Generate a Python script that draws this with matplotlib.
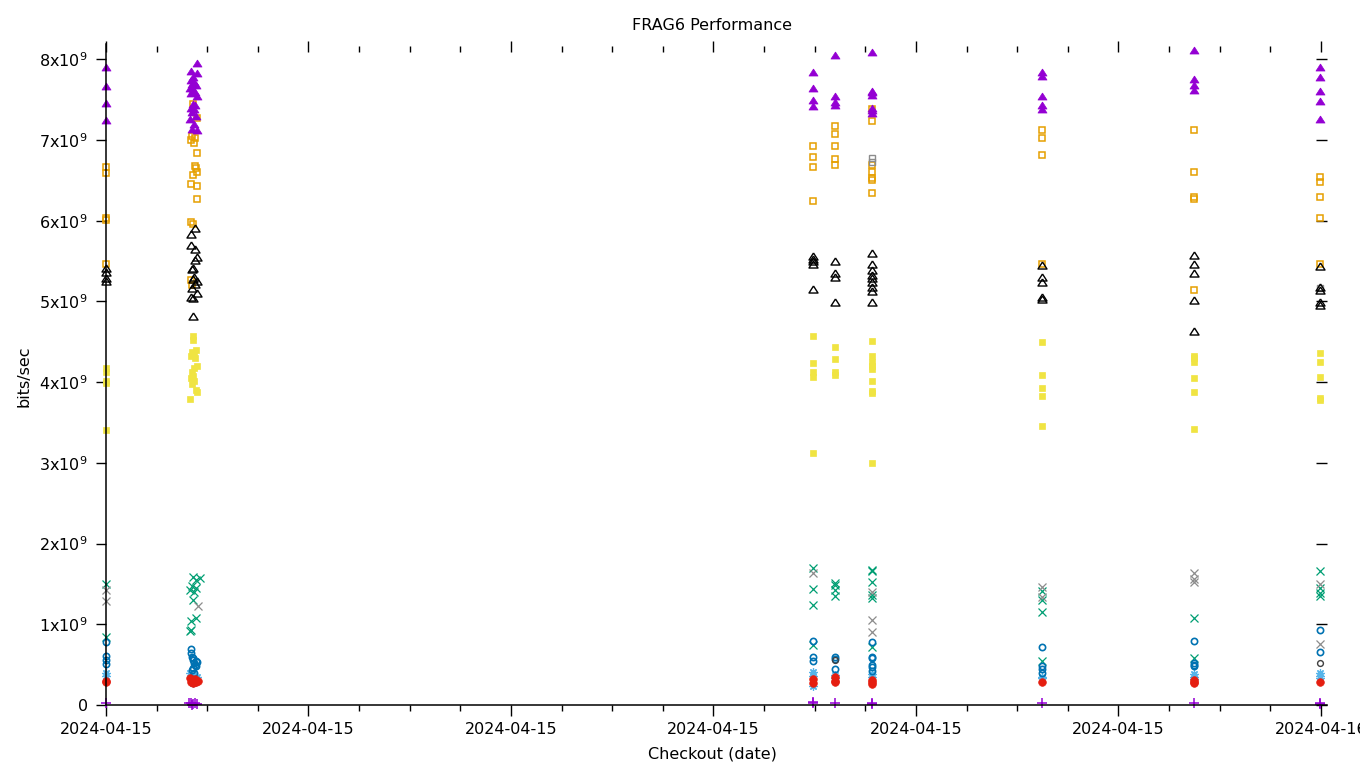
import matplotlib
matplotlib.use('Agg')
import matplotlib.pyplot as plt
import matplotlib.dates as mdates
from datetime import datetime, timedelta

# ---------------- data (hours after 2024-04-15 00:00, values in Gbit/s) ----------------
base_day = datetime(2024, 4, 15)

plus_h = [0.0, 1.64, 1.68, 1.72, 1.76, 1.80, 1.70, 13.97, 13.97, 14.40, 15.13, 15.13, 18.49, 21.49, 23.98, 23.98]
plus_v = [0.025, 0.02, 0.03, 0.01, 0.02, 0.01, 0.00, 0.04, 0.02, 0.03, 0.03, 0.01, 0.02, 0.02, 0.03, 0.01]

xgreen_h = [0.0, 0.0,
            1.72, 1.86, 1.78, 1.70, 1.78, 1.66, 1.74, 1.72, 1.78, 1.68, 1.68, 1.66,
            13.97, 13.97, 13.97, 13.97,
            14.40, 14.40, 14.40, 14.40,
            15.13, 15.13, 15.13, 15.13, 15.13, 15.13,
            18.49, 18.49, 18.49, 18.49,
            21.49, 21.49,
            23.98, 23.98, 23.98, 23.98]
xgreen_v = [1.50, 0.84,
            1.59, 1.57, 1.55, 1.47, 1.45, 1.43, 1.40, 1.30, 1.08, 1.04, 0.93, 0.92,
            1.70, 1.44, 1.24, 0.74,
            1.51, 1.49, 1.42, 1.35,
            1.67, 1.66, 1.52, 1.36, 1.33, 0.72,
            1.41, 1.30, 1.15, 0.54,
            1.08, 0.58,
            1.66, 1.45, 1.39, 1.35]

xgray_h = [0.0, 0.0, 1.82, 13.97, 15.13, 15.13, 15.13, 18.49, 18.49, 21.49, 21.49, 21.49, 23.98, 23.98]
xgray_v = [1.42, 1.29, 1.23, 1.63, 1.40, 1.05, 0.90, 1.46, 1.34, 1.64, 1.56, 1.52, 1.50, 0.76]

star_h = [0.0, 0.0, 1.66, 1.74, 1.80, 1.70, 1.76, 1.72, 13.97, 13.97, 13.97, 14.40, 14.40,
          15.13, 15.13, 18.49, 18.49, 21.49, 21.49, 21.49, 23.98, 23.98, 23.98]
star_v = [0.40, 0.36, 0.40, 0.37, 0.35, 0.33, 0.30, 0.27, 0.41, 0.36, 0.24, 0.37, 0.33,
          0.38, 0.35, 0.35, 0.33, 0.38, 0.35, 0.32, 0.40, 0.36, 0.33]

osq_h = [0.0, 0.0, 0.0, 0.0, 0.0,
         1.72, 1.80, 1.70, 1.76, 1.68, 1.74, 1.80, 1.76, 1.78, 1.80, 1.72, 1.68, 1.80, 1.80, 1.68, 1.72, 1.68, 1.70,
         13.97, 13.97, 13.97, 13.97,
         14.40, 14.40, 14.40, 14.40, 14.40,
         15.13, 15.13, 15.13, 15.13, 15.13, 15.13, 15.13,
         18.49, 18.49, 18.49, 18.49,
         21.49, 21.49, 21.49, 21.49, 21.49,
         23.98, 23.98, 23.98, 23.98, 23.98]
osq_v = [6.66, 6.59, 6.03, 6.01, 5.47,
         7.45, 7.27, 7.05, 7.03, 7.00, 6.96, 6.84, 6.68, 6.65, 6.60, 6.57, 6.45, 6.43, 6.27, 5.98, 5.96, 5.26, 5.20,
         6.92, 6.79, 6.67, 6.24,
         7.17, 7.08, 6.93, 6.76, 6.69,
         7.39, 7.23, 6.69, 6.61, 6.53, 6.50, 6.34,
         7.13, 7.03, 6.81, 5.47,
         7.13, 6.61, 6.30, 6.27, 5.14,
         6.54, 6.48, 6.30, 6.04, 5.46]

gsq_h = [15.13, 15.13, 23.98]
gsq_v = [6.78, 6.73, 5.17]

fsq_h = [0.0, 0.0, 0.0, 0.0, 0.0,
         1.72, 1.72, 1.78, 1.70, 1.74, 1.68, 1.76, 1.80, 1.74, 1.70, 1.72, 1.68, 1.74, 1.70, 1.78, 1.80, 1.66,
         13.97, 13.97, 13.97, 13.97, 13.97,
         14.40, 14.40, 14.40, 14.40,
         15.13, 15.13, 15.13, 15.13, 15.13, 15.13, 15.13, 15.13, 15.13,
         18.49, 18.49, 18.49, 18.49, 18.49,
         21.49, 21.49, 21.49, 21.49, 21.49, 21.49,
         23.98, 23.98, 23.98, 23.98, 23.98]
fsq_v = [4.17, 4.12, 4.02, 3.99, 3.41,
         4.57, 4.52, 4.40, 4.37, 4.35, 4.33, 4.30, 4.20, 4.18, 4.12, 4.08, 4.05, 4.02, 3.98, 3.90, 3.88, 3.79,
         4.57, 4.24, 4.12, 4.06, 3.12,
         4.44, 4.29, 4.12, 4.09,
         4.51, 4.33, 4.25, 4.20, 4.16, 4.01, 3.89, 3.86, 3.00,
         4.50, 4.09, 3.93, 3.83, 3.46,
         4.33, 4.30, 4.25, 4.05, 3.88, 3.42,
         4.36, 4.25, 4.06, 3.80, 3.78]

ocirc_h = [0.0, 0.0, 0.0, 0.0,
           1.68, 1.68, 1.70, 1.72, 1.72, 1.78, 1.80, 1.74, 1.76, 1.78, 1.72, 1.70, 1.74,
           13.97, 13.97, 13.97,
           14.40, 14.40, 14.40,
           15.13, 15.13, 15.13, 15.13, 15.13, 15.13,
           18.49, 18.49, 18.49, 18.49,
           21.49, 21.49, 21.49, 21.49,
           23.98, 23.98]
ocirc_v = [0.78, 0.61, 0.56, 0.51,
           0.69, 0.65, 0.60, 0.58, 0.56, 0.55, 0.53, 0.52, 0.50, 0.48, 0.46, 0.43, 0.40,
           0.79, 0.60, 0.55,
           0.60, 0.57, 0.45,
           0.78, 0.60, 0.58, 0.50, 0.47, 0.42,
           0.72, 0.48, 0.44, 0.40,
           0.79, 0.52, 0.50, 0.48,
           0.93, 0.66]

dcirc_h = [14.40, 23.98]
dcirc_v = [0.56, 0.52]

fcirc_h = [0.0, 0.0, 1.66, 1.70, 1.74, 1.78, 1.82, 1.68, 1.76, 1.72, 13.97, 13.97,
           14.40, 14.40, 14.40, 15.13, 15.13, 15.13, 18.49, 21.49, 21.49, 21.49, 23.98]
fcirc_v = [0.30, 0.29, 0.33, 0.31, 0.30, 0.29, 0.30, 0.28, 0.32, 0.27, 0.32, 0.27,
           0.35, 0.30, 0.28, 0.31, 0.29, 0.26, 0.29, 0.31, 0.29, 0.27, 0.29]

otri_h = [0.0, 0.0, 0.0, 0.0,
          1.76, 1.68, 1.68, 1.76, 1.80, 1.76, 1.72, 1.70, 1.74, 1.72, 1.80, 1.76, 1.70, 1.80, 1.68, 1.72, 1.72,
          13.97, 13.97, 13.97, 13.97, 13.97,
          14.40, 14.40, 14.40, 14.40,
          15.13, 15.13, 15.13, 15.13, 15.13, 15.13, 15.13, 15.13, 15.13,
          18.49, 18.49, 18.49, 18.49, 18.49,
          21.49, 21.49, 21.49, 21.49, 21.49,
          23.98, 23.98, 23.98, 23.98, 23.98]
otri_v = [5.41, 5.36, 5.29, 5.25,
          5.91, 5.83, 5.70, 5.65, 5.55, 5.51, 5.42, 5.40, 5.30, 5.28, 5.25, 5.22, 5.17, 5.10, 5.05, 5.04, 4.82,
          5.56, 5.53, 5.50, 5.47, 5.16,
          5.50, 5.35, 5.30, 4.99,
          5.60, 5.47, 5.39, 5.33, 5.29, 5.24, 5.18, 5.13, 4.99,
          5.45, 5.30, 5.24, 5.05, 5.03,
          5.57, 5.46, 5.35, 5.02, 4.63,
          5.44, 5.18, 5.14, 4.99, 4.95]

ftri_h = [0.0, 0.0, 0.0, 0.0,
          1.80, 1.68, 1.80, 1.72, 1.68, 1.74, 1.70, 1.78, 1.66, 1.72, 1.76, 1.68, 1.80, 1.72, 1.76, 1.68,
          1.74, 1.70, 1.78, 1.66, 1.74, 1.70, 1.80,
          13.97, 13.97, 13.97, 13.97,
          14.40, 14.40, 14.40, 14.40,
          15.13, 15.13, 15.13, 15.13, 15.13, 15.13, 15.13,
          18.49, 18.49, 18.49, 18.49, 18.49,
          21.49, 21.49, 21.49, 21.49,
          23.98, 23.98, 23.98, 23.98, 23.98]
ftri_v = [7.90, 7.67, 7.46, 7.25,
          7.96, 7.86, 7.83, 7.78, 7.75, 7.72, 7.70, 7.68, 7.65, 7.62, 7.60, 7.58, 7.55, 7.45, 7.43, 7.40,
          7.38, 7.35, 7.30, 7.26, 7.20, 7.14, 7.13,
          7.84, 7.65, 7.49, 7.42,
          8.05, 7.55, 7.47, 7.43,
          8.09, 7.61, 7.59, 7.56, 7.40, 7.37, 7.34,
          7.84, 7.79, 7.55, 7.44, 7.39,
          8.11, 7.76, 7.68, 7.62,
          7.90, 7.78, 7.61, 7.48, 7.26]

ytick_values = [0, 1, 2, 3, 4, 5, 6, 7, 8]
ytick_labels = ['0'] + [f'{i}x10$^{{9}}$' for i in ytick_values[1:]]
title_text = 'FRAG6 Performance'
xlabel_text = 'Checkout (date)'
ylabel_text = 'bits/sec'
GBIT = 1e9

# ---------------- figure ----------------
W, H = 1360, 768
fig = plt.figure(figsize=(W / 100, H / 100), dpi=100)
L, R, T, B = 106, 1327, 44, 705
ax = fig.add_axes([L / W, 1 - B / H, (R - L) / W, (B - T) / H])

def to_dates(hours):
    return [base_day + timedelta(hours=h) for h in hours]

def draw(hs, vs, **kw):
    ax.plot(to_dates(hs), [v * GBIT for v in vs], linestyle='none', clip_on=False, **kw)

PURPLE, GREEN, LBLUE, ORANGE = '#9400d3', '#009e73', '#56b4e9', '#e69f00'
YELLOW, BLUE, RED, BLACK = '#f0e442', '#0072b2', '#e51e10', '#000000'
GRAY, DGRAY = '#8c8c8c', '#404040'

# gnuplot-like flattened triangle (wider than tall)
TRI = [(0, 0.78), (-1, -0.78), (1, -0.78), (0, 0.78)]

draw(plus_h, plus_v, marker='+', ms=6.5, mew=1.1, color=PURPLE)
draw(xgreen_h, xgreen_v, marker='x', ms=5.5, mew=0.9, color=GREEN)
draw(xgray_h, xgray_v, marker='x', ms=5.5, mew=0.9, color=GRAY)
draw(star_h, star_v, marker=(8, 2, 0), ms=6, mew=0.9, color=LBLUE)
draw(osq_h, osq_v, marker='s', ms=5, mew=1.1, mfc='none', mec=ORANGE)
draw(gsq_h, gsq_v, marker='s', ms=5, mew=1.0, mfc='none', mec=GRAY)
draw(fsq_h, fsq_v, marker='s', ms=5, mew=0.5, color=YELLOW)
draw(ocirc_h, ocirc_v, marker='o', ms=4.5, mew=1.2, mfc='none', mec=BLUE)
draw(dcirc_h, dcirc_v, marker='o', ms=4.2, mew=1.0, mfc='none', mec=DGRAY)
draw(fcirc_h, fcirc_v, marker='o', ms=5.5, mew=0.5, color=RED)
draw(otri_h, otri_v, marker=TRI, ms=6.5, mew=1.0, mfc='none', mec=BLACK)
draw(ftri_h, ftri_v, marker=TRI, ms=6.5, mew=0.5, color=PURPLE)

# axes limits
ax.set_xlim(base_day, base_day + timedelta(hours=24.12))
ax.set_ylim(0, 8.19 * GBIT)

major_loc = mdates.HourLocator(byhour=range(0, 24, 4))
minor_loc = mdates.HourLocator(interval=1)
ax.xaxis.set_major_locator(major_loc)
ax.xaxis.set_minor_locator(minor_loc)
ax.xaxis.set_major_formatter(mdates.DateFormatter('%Y-%m-%d'))
ax.set_yticks([v * GBIT for v in ytick_values])
ax.set_yticklabels(ytick_labels)

for s in ('top', 'right'):
    ax.spines[s].set_visible(False)
for s in ('left', 'bottom'):
    ax.spines[s].set_linewidth(1.1)

FS = 11.5
ax.tick_params(axis='x', which='major', direction='out', length=8, width=1.0, labelsize=FS, pad=4)
ax.tick_params(axis='x', which='minor', direction='out', length=4, width=1.0)
ax.tick_params(axis='y', which='major', direction='out', length=7, width=1.0, labelsize=FS, pad=6)

# mirrored tics on top (outward from a line 8px below the top) and right (inward)
sec_top = ax.secondary_xaxis(1 - 8 / (B - T))
sec_top.xaxis.set_major_locator(mdates.HourLocator(byhour=range(0, 24, 4)))
sec_top.xaxis.set_minor_locator(mdates.HourLocator(interval=1))
sec_top.tick_params(axis='x', which='major', direction='out', length=8, width=1.0, labeltop=False)
sec_top.tick_params(axis='x', which='minor', direction='out', length=4, width=1.0, labeltop=False)
for sp in sec_top.spines.values():
    sp.set_visible(False)

sec_right = ax.secondary_yaxis('right')
sec_right.set_yticks([v * GBIT for v in ytick_values])
sec_right.tick_params(axis='y', which='major', direction='in', length=8, width=1.0, labelright=False)
for sp in sec_right.spines.values():
    sp.set_visible(False)

fig.text(712 / W, 1 - 25 / H, title_text, ha='center', va='center', fontsize=FS)
fig.text(712 / W, 1 - 754 / H, xlabel_text, ha='center', va='center', fontsize=FS)
fig.text(24 / W, 1 - 376 / H, ylabel_text, ha='center', va='center', rotation=90, fontsize=FS)

fig.savefig('out.png', dpi=100)
